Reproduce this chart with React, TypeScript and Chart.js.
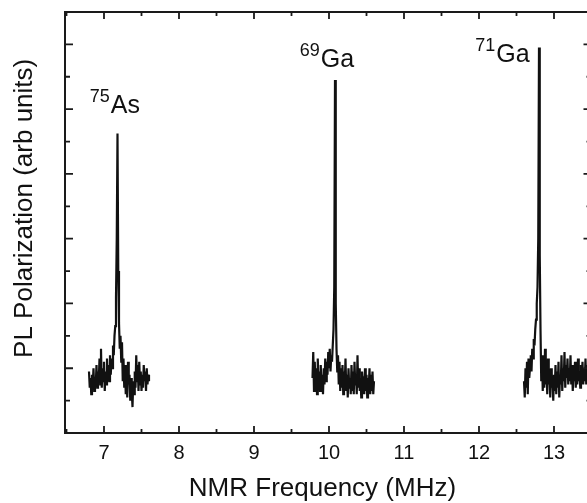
import React, { useEffect, useRef } from "react";
import { Chart, registerables } from "chart.js";

Chart.register(...registerables);

const FONT = "'Liberation Sans', Arial, Helvetica, sans-serif";

// Frequency sweep grid (MHz)
const sweepStep = 0.01;

// 75As resonance
const as75Start = 6.8;
const as75Signal = [
  1.9, 1.4, 1.7, 1.2, 1.8, 1.5, 2.0, 1.3, 1.7, 1.5,
  2.1, 1.4, 1.9, 1.6, 2.3, 1.5, 2.6, 1.4, 2.0, 1.6,
  2.2, 1.3, 1.9, 1.5, 2.3, 1.7, 2.1, 1.6, 2.4, 1.8,
  2.3, 2.0, 2.7, 2.4, 3.0, 3.3, 4.2, 6.0, 9.25, 5.0,
  3.4, 2.6, 3.0, 2.2, 2.8, 1.6, 2.3, 1.4, 2.1, 1.2,
  1.9, 1.1, 2.2, 1.5, 1.8, 1.0, 1.7, 1.3, 0.8, 1.6,
  1.2, 1.9, 1.4, 2.4, 1.6, 2.1, 1.3, 2.2, 1.5, 1.9,
  1.3, 1.8, 1.4, 2.1, 1.6, 1.9, 1.3, 2.0, 1.5, 1.8,
  1.6,
];

// 69Ga resonance
const ga69Start = 9.78;
const ga69Signal = [
  1.7, 2.5, 1.3, 2.2, 1.5, 2.0, 1.2, 2.3, 1.6, 1.9,
  1.3, 2.1, 1.4, 1.8, 1.2, 2.0, 1.5, 2.3, 1.6, 2.2,
  1.8, 2.5, 2.0, 2.6, 1.9, 2.4, 2.2, 2.7, 3.2, 4.5,
  10.9, 4.0, 2.6, 1.9, 2.4, 1.5, 2.2, 1.3, 2.0, 1.4,
  2.1, 1.2, 1.9, 1.5, 2.3, 1.3, 1.8, 1.1, 2.0, 1.4,
  1.7, 1.2, 2.1, 1.3, 1.9, 1.2, 2.2, 1.5, 1.8, 1.2,
  2.4, 1.4, 2.0, 1.3, 1.7, 1.1, 1.9, 1.5, 1.6, 1.2,
  2.0, 1.3, 1.8, 1.1, 1.7, 1.4, 2.0, 1.2, 1.8, 1.3,
  1.9, 1.2, 1.6,
];

// 71Ga resonance
const ga71Start = 12.6;
const ga71Signal = [
  1.6, 1.1, 2.0, 1.4, 2.2, 1.2, 2.3, 1.7, 2.0, 2.4,
  1.9, 2.6, 2.3, 2.9, 2.7, 3.2, 3.5, 4.0, 4.5, 6.0,
  11.9, 5.5, 3.2, 1.6, 2.4, 1.3, 2.2, 1.4, 2.6, 1.5,
  2.1, 1.2, 2.3, 1.5, 1.9, 1.1, 2.0, 1.4, 1.7, 1.0,
  1.8, 1.3, 2.1, 1.2, 1.9, 1.4, 2.2, 1.1, 1.8, 1.5,
  2.4, 1.3, 2.0, 1.6, 2.5, 1.4, 2.1, 1.7, 2.3, 1.5,
  2.0, 1.6, 2.4, 1.5, 2.1, 1.3, 1.9, 1.6, 2.2, 1.4,
  2.0, 1.5, 2.3, 1.6, 1.9, 1.4, 2.1, 1.7, 2.2, 1.5,
  2.0, 1.6, 2.3, 1.5, 2.1, 1.7, 1.9, 1.5, 2.2, 1.6,
  1.8,
];

const xMin = 6.48;
const xMax = 13.5;
const yMin = 0;
const yMax = 13;
const xTickLabels = [7, 8, 9, 10, 11, 12, 13];
const xMinorStep = 0.5;
const yMinorStep = 1;

const xTitle = "NMR Frequency (MHz)";
const yTitle = "PL Polarization (arb units)";

const isotopeMass = ["75", "69", "71"];
const isotopeElement = ["As", "Ga", "Ga"];
const isotopeLabelFreq = [6.81, 9.61, 11.95];
const isotopeLabelLevel = [9.88, 11.3, 11.46];

const toPoints = (start: number, values: number[]) =>
  values.map((v, i) => ({ x: +(start + i * sweepStep).toFixed(3), y: v }));

const framePlugin = {
  id: "frameTicks",
  afterDatasetsDraw(chart: any) {
    const { ctx, chartArea } = chart;
    const { left, right, top, bottom } = chartArea;
    const xs = chart.scales.x;
    const ys = chart.scales.y;
    ctx.save();
    ctx.strokeStyle = "#1a1a1a";
    ctx.lineWidth = 2;
    ctx.beginPath();
    ctx.rect(left, top, right - left, bottom - top);
    ctx.stroke();

    ctx.lineWidth = 1.8;
    ctx.beginPath();
    for (let v = 6.5; v <= xMax + 1e-6; v += xMinorStep) {
      const px = xs.getPixelForValue(v);
      const major = Math.abs(v - Math.round(v)) < 1e-6;
      const l = major ? 7 : 4;
      ctx.moveTo(px, bottom);
      ctx.lineTo(px, bottom - l);
      ctx.moveTo(px, top);
      ctx.lineTo(px, top + l);
    }
    for (let v = yMin + yMinorStep; v < yMax; v += yMinorStep) {
      const py = ys.getPixelForValue(v);
      const major = Math.round(v) % 2 === 0;
      const l = major ? 8 : 5;
      ctx.moveTo(left, py);
      ctx.lineTo(left + l, py);
      ctx.moveTo(right, py);
      ctx.lineTo(right - l, py);
    }
    ctx.stroke();

    ctx.fillStyle = "#111";
    ctx.textBaseline = "alphabetic";
    ctx.textAlign = "left";
    for (let i = 0; i < isotopeMass.length; i++) {
      const px = xs.getPixelForValue(isotopeLabelFreq[i]);
      const py = ys.getPixelForValue(isotopeLabelLevel[i]);
      ctx.font = `18px ${FONT}`;
      ctx.fillText(isotopeMass[i], px, py - 11);
      const w = ctx.measureText(isotopeMass[i]).width;
      ctx.font = `25px ${FONT}`;
      ctx.fillText(isotopeElement[i], px + w + 1, py);
    }

    // axis titles
    ctx.font = `26px ${FONT}`;
    ctx.textAlign = "center";
    ctx.fillText(xTitle, left + (right - left) * 0.489, 496);
    ctx.translate(32, top + (bottom - top) * 0.4664);
    ctx.rotate(-Math.PI / 2);
    ctx.fillText(yTitle, 0, 0);
    ctx.restore();
  },
};

export default function App() {
  const ref = useRef<HTMLCanvasElement | null>(null);
  useEffect(() => {
    if (!ref.current) return;
    const ds = (start: number, vals: number[]) => ({
      data: toPoints(start, vals),
      borderColor: "#111",
      borderWidth: 2.2,
      pointRadius: 0,
      tension: 0,
      fill: false,
    });
    const chart = new Chart(ref.current, {
      type: "line",
      data: {
        datasets: [
          ds(as75Start, as75Signal),
          ds(ga69Start, ga69Signal),
          ds(ga71Start, ga71Signal),
        ],
      },
      options: {
        animation: false,
        responsive: false,
        devicePixelRatio: 1,
        layout: { padding: { top: 12, right: 8.5, left: 0, bottom: 0 } },
        plugins: { legend: { display: false }, tooltip: { enabled: false } },
        scales: {
          x: {
            type: "linear",
            min: xMin,
            max: xMax,
            afterFit: (s: any) => {
              s.height = 70;
            },
            afterBuildTicks: (s: any) => {
              s.ticks = xTickLabels.map((v) => ({ value: v }));
            },
            grid: { display: false, drawTicks: false },
            border: { display: false },
            ticks: {
              color: "#111",
              padding: 8,
              maxRotation: 0,
              font: { family: FONT, size: 20 },
              callback: (v: any) => String(v),
            },
            title: { display: false },
          },
          y: {
            type: "linear",
            min: yMin,
            max: yMax,
            afterFit: (s: any) => {
              s.width = 65;
            },
            grid: { display: false, drawTicks: false },
            border: { display: false },
            ticks: { display: false },
            title: { display: false },
          },
        },
      },
      plugins: [framePlugin],
    });
    return () => chart.destroy();
  }, []);
  return (
    <div
      style={{
        position: "fixed",
        left: 0,
        top: 0,
        width: 587,
        height: 503,
        overflow: "hidden",
        background: "#fff",
      }}
    >
      <canvas ref={ref} width={600} height={503} style={{ width: 600, height: 503, display: "block" }} />
    </div>
  );
}
